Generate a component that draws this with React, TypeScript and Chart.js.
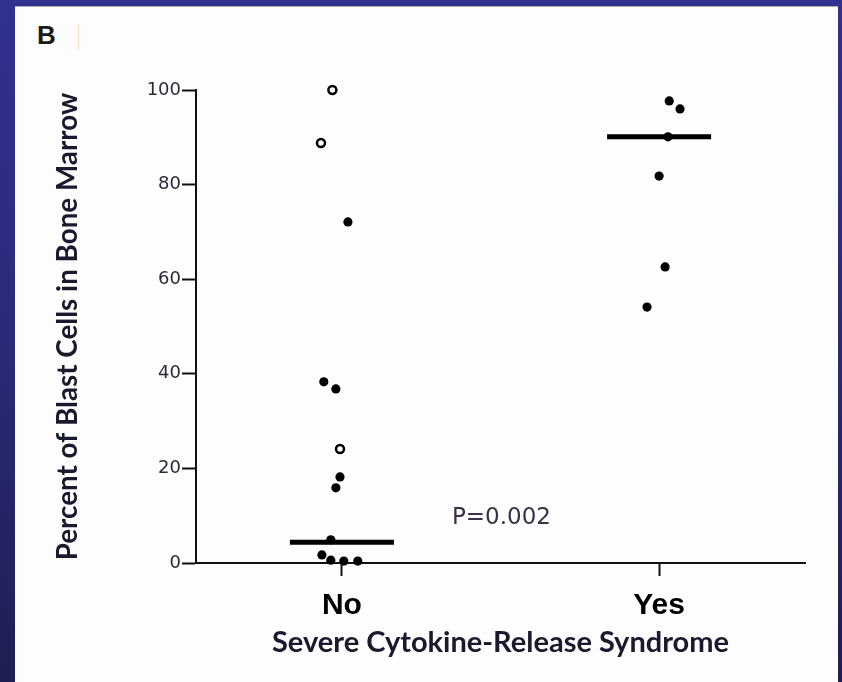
import React, { useEffect, useRef } from "react";
import { Chart, registerables } from "chart.js";

Chart.register(...registerables);

// ---- data ----
const categories = ["No", "Yes"];
const yTickValues = [0, 20, 40, 60, 80, 100];

// "No" group (severe CRS = No)
const noValues = [100, 88.8, 72.1, 38.3, 36.8, 24.1, 18.2, 15.9, 4.9, 1.7, 0.6, 0.4, 0.4];
const noJitter = [-0.03, -0.066, 0.019, -0.057, -0.019, -0.006, -0.006, -0.019, -0.035, -0.063, -0.035, 0.006, 0.05];
const noOpen = [true, true, false, false, false, true, false, false, false, false, false, false, false];

// "Yes" group
const yesValues = [97.7, 96.0, 90.1, 81.8, 62.6, 54.1];
const yesJitter = [0.032, 0.066, 0.028, 0.0, 0.019, -0.038];
const yesOpen = [false, false, false, false, false, false];

const medians = [4.4, 90.1];
const pValueText = "P=0.002";
const yTitle = "Percent of Blast Cells in Bone Marrow";
const xTitle = "Severe Cytokine-Release Syndrome";
const panelLetter = "B";

// ---- helpers ----
const groups = [
  { values: noValues, jitter: noJitter, open: noOpen },
  { values: yesValues, jitter: yesJitter, open: yesOpen },
];

function buildPoints(open: boolean) {
  const pts: { x: number; y: number }[] = [];
  groups.forEach((g, gi) => {
    g.values.forEach((v, i) => {
      if (g.open[i] === open) pts.push({ x: gi + 1 + g.jitter[i], y: v });
    });
  });
  return pts;
}

const MEDIAN_HALF = 0.164;

const pValuePlugin = {
  id: "pValueLabel",
  afterDatasetsDraw(chart: any) {
    const { ctx, scales } = chart;
    const x = scales.x.getPixelForValue(1.503);
    const y = scales.y.getPixelForValue(9.5);
    ctx.save();
    ctx.font = '23px "DejaVu Sans"';
    ctx.fillStyle = "#3d2f45";
    ctx.textAlign = "center";
    ctx.textBaseline = "middle";
    ctx.fillText(pValueText, x, y);
    ctx.restore();
  },
};

export default function App() {
  const ref = useRef<HTMLCanvasElement | null>(null);

  useEffect(() => {
    if (!ref.current) return;
    const medianSets = medians.map((m, gi) => ({
      type: "line" as const,
      data: [
        { x: gi + 1 - MEDIAN_HALF, y: m },
        { x: gi + 1 + MEDIAN_HALF, y: m },
      ],
      borderColor: "#000",
      borderWidth: 5,
      borderCapStyle: "butt" as const,
      pointRadius: 0,
      showLine: true,
      clip: false as any,
      order: 2,
    }));

    const chart = new Chart(ref.current, {
      type: "scatter",
      data: {
        datasets: [
          ...medianSets,
          {
            type: "scatter",
            data: buildPoints(false),
            pointRadius: 4.6,
            pointBackgroundColor: "#000",
            pointBorderColor: "#000",
            pointBorderWidth: 0,
            clip: false as any,
            order: 1,
          },
          {
            type: "scatter",
            data: buildPoints(true),
            pointRadius: 4,
            pointBackgroundColor: "#fff",
            pointBorderColor: "#000",
            pointBorderWidth: 2.5,
            clip: false as any,
            order: 0,
          },
        ] as any,
      },
      options: {
        animation: false,
        responsive: false,
        devicePixelRatio: 1,
        layout: { padding: { left: 0, top: 90, right: 37, bottom: 0 } },
        plugins: { legend: { display: false }, tooltip: { enabled: false } },
        scales: {
          x: {
            type: "linear",
            min: 0.54,
            max: 2.46,
            afterBuildTicks: (scale: any) => {
              scale.ticks = categories.map((_, i) => ({ value: i + 1 }));
            },
            afterFit: (scale: any) => {
              scale.height = 119;
            },
            grid: {
              drawOnChartArea: false,
              drawTicks: true,
              tickLength: 13,
              tickWidth: 2,
              tickColor: "#111",
            },
            border: { display: true, color: "#111", width: 2 },
            ticks: {
              padding: 12,
              color: "#000",
              font: { family: '"Liberation Sans", Arial, sans-serif', size: 30, weight: "bold" },
              callback: (v: any) => categories[Math.round(Number(v)) - 1] ?? "",
            },
            title: {
              display: true,
              text: xTitle,
              color: "#1a1a2e",
              font: { family: "Lato, sans-serif", size: 29, weight: "bold" },
              padding: { top: 0, bottom: 21.6 },
            },
          },
          y: {
            type: "linear",
            min: 0,
            max: 100,
            afterBuildTicks: (scale: any) => {
              scale.ticks = yTickValues.map((v) => ({ value: v }));
            },
            afterFit: (scale: any) => {
              scale.width = 196;
            },
            grid: {
              drawOnChartArea: false,
              drawTicks: true,
              tickLength: 14,
              tickWidth: 2,
              tickColor: "#111",
            },
            border: { display: true, color: "#111", width: 2 },
            ticks: {
              padding: 1,
              color: "#2a2a3a",
              font: { family: '"DejaVu Sans", sans-serif', size: 18 },
            },
            title: {
              display: true,
              text: yTitle,
              color: "#1a1a2e",
              font: { family: "Lato, sans-serif", size: 27.8, weight: "bold" },
              padding: { top: 51.3, bottom: 0 },
            },
          },
        },
      },
      plugins: [pValuePlugin],
    });
    return () => chart.destroy();
  }, []);

  return (
    <div
      style={{
        position: "fixed",
        left: 0,
        top: 0,
        width: 842,
        height: 682,
        background: "linear-gradient(180deg, #31318f 0%, #2a2a7a 50%, #1f1f52 100%)",
        overflow: "hidden",
      }}
    >
      <div
        style={{
          position: "absolute",
          left: 15,
          top: 6,
          width: 823,
          height: 676,
          background: "#fdfdfd",
          borderTop: "1px solid #a9a9b0",
          boxSizing: "border-box",
        }}
      />
      <div
        style={{
          position: "absolute",
          left: 37,
          top: 19,
          fontFamily: '"Liberation Sans", Arial, sans-serif',
          fontWeight: "bold",
          fontSize: 26,
          color: "#1a1a1a",
          lineHeight: "32px",
        }}
      >
        {panelLetter}
      </div>
      <div
        style={{
          position: "absolute",
          left: 78,
          top: 24,
          width: 1,
          height: 26,
          background: "#f3dfc8",
        }}
      />
      <canvas
        ref={ref}
        width={842}
        height={682}
        style={{ position: "absolute", left: 0, top: 0, display: "block" }}
      />
    </div>
  );
}
